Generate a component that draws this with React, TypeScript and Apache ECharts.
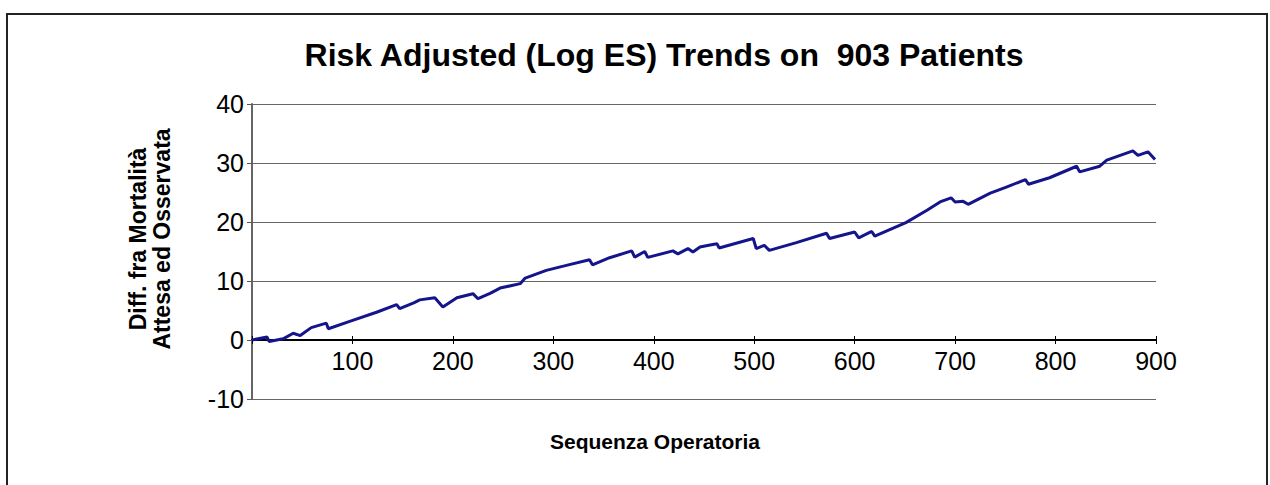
import React, { useEffect, useRef } from "react";
import * as echarts from "echarts";

const titleText = "Risk Adjusted (Log ES) Trends on  903 Patients";
const yAxisName = "Diff. fra Mortalità\nAttesa ed Osservata";
const xAxisName = "Sequenza Operatoria";

const yTicks = [-10, 0, 10, 20, 30, 40];
const xTicks = [0, 100, 200, 300, 400, 500, 600, 700, 800, 900];

const operationSeq = [
  0, 15, 17, 31, 41, 48, 59, 74, 76, 98, 124, 144, 147, 161, 167, 182, 190, 204,
  220, 225, 237, 247, 267, 272, 293, 313, 336, 339, 356, 378, 381, 391, 394, 419,
  424, 434, 439, 446, 456, 463, 465, 499, 502, 510, 515, 542, 572, 575, 600, 604,
  617, 620, 651, 672, 685, 696, 700, 708, 713, 735, 751, 770, 773, 794, 821, 824,
  844, 851, 877, 882, 892, 899,
];
const diffValues = [
  0.0, 0.5, -0.25, 0.2, 1.15, 0.75, 2.1, 2.85, 1.9, 3.2, 4.7, 6.0, 5.3, 6.3, 6.8,
  7.15, 5.6, 7.15, 7.85, 7.0, 7.9, 8.8, 9.55, 10.5, 11.8, 12.65, 13.6, 12.75,
  13.95, 15.1, 14.05, 15.0, 14.0, 15.1, 14.6, 15.5, 14.9, 15.75, 16.1, 16.3, 15.6,
  17.2, 15.5, 16.05, 15.2, 16.5, 18.1, 17.2, 18.3, 17.3, 18.4, 17.6, 19.9, 22.0,
  23.4, 24.1, 23.4, 23.5, 23.0, 24.9, 25.9, 27.2, 26.4, 27.5, 29.45, 28.5, 29.45,
  30.5, 32.05, 31.3, 31.9, 30.6,
];

const FONT = "'Liberation Sans', Arial, Helvetica, sans-serif";

export default function App() {
  const ref = useRef<HTMLDivElement>(null);

  useEffect(() => {
    if (!ref.current) return;
    const chart = echarts.init(ref.current, undefined, { renderer: "svg" });
    const seriesData = operationSeq.map((x, i) => [x, diffValues[i]]);
    const xMin = xTicks[0];
    const xMax = xTicks[xTicks.length - 1];
    const xInterval = xTicks[1] - xTicks[0];
    const yMin = yTicks[0];
    const yMax = yTicks[yTicks.length - 1];
    const yInterval = yTicks[1] - yTicks[0];

    // main plot area
    const gLeft = 252;
    const gRight = 114;
    const gTop = 104;
    const gBottom = 86;
    const H = 485;
    const plotH = H - gTop - gBottom;
    // pixel of value 0 on the y axis
    const zeroY = gTop + (plotH * (yMax - 0)) / (yMax - yMin);
    const zeroBottom = H - zeroY;

    const hiddenY = (gridIndex: number) => ({
      type: "value",
      gridIndex,
      min: 0,
      max: 1,
      show: false,
    });

    chart.setOption({
      animation: false,
      backgroundColor: "#ffffff",
      grid: [
        { left: gLeft, right: gRight, top: gTop, bottom: gBottom, containLabel: false },
        { left: gLeft, right: gRight, top: gTop, bottom: zeroBottom, containLabel: false },
        { left: gLeft, right: gRight, top: gTop, bottom: zeroBottom, containLabel: false },
      ],
      xAxis: [
        {
          type: "value",
          gridIndex: 0,
          min: xMin,
          max: xMax,
          interval: xInterval,
          axisLine: { show: false },
          axisTick: { show: false },
          axisLabel: { show: false },
          splitLine: { show: false },
        },
        {
          type: "value",
          gridIndex: 1,
          min: xMin,
          max: xMax,
          interval: xInterval,
          position: "bottom",
          axisLine: { show: true, onZero: false, lineStyle: { color: "#000", width: 2 } },
          axisTick: { show: true, inside: false, length: 4, lineStyle: { color: "#000", width: 1 } },
          axisLabel: {
            show: true,
            margin: 8,
            color: "#000",
            fontFamily: FONT,
            fontSize: 25,
            formatter: (v: number) => (v === 0 ? "" : String(v)),
          },
          splitLine: { show: false },
        },
        {
          type: "value",
          gridIndex: 2,
          min: xMin,
          max: xMax,
          interval: xInterval,
          position: "bottom",
          axisLine: { show: false, onZero: false },
          axisTick: { show: true, inside: true, length: 4, lineStyle: { color: "#000", width: 1 } },
          axisLabel: { show: false },
          splitLine: { show: false },
        },
      ],
      yAxis: [
        {
          type: "value",
          gridIndex: 0,
          min: yMin,
          max: yMax,
          interval: yInterval,
          axisLine: { show: true, onZero: false, lineStyle: { color: "#666", width: 2 } },
          axisTick: { show: true, inside: false, length: 5, lineStyle: { color: "#555", width: 1 } },
          axisLabel: { margin: 8, color: "#000", fontFamily: FONT, fontSize: 25 },
          splitLine: { show: true, lineStyle: { color: "#666", width: 1 } },
        },
        hiddenY(1),
        hiddenY(2),
      ],
      series: [
        {
          type: "line",
          xAxisIndex: 0,
          yAxisIndex: 0,
          data: seriesData,
          showSymbol: false,
          symbol: "none",
          lineStyle: { color: "#14148c", width: 3 },
          clip: true,
          z: 5,
        },
      ],
      graphic: [
        {
          type: "rect",
          shape: { x: 7, y: 14, width: 1260, height: 500 },
          style: { fill: "none", stroke: "#222", lineWidth: 2 },
          silent: true,
        },
        {
          type: "text",
          x: 664,
          y: 39,
          style: {
            text: titleText,
            fill: "#000",
            font: `bold 32px ${FONT}`,
            align: "center",
            verticalAlign: "top",
          },
        },
        {
          type: "text",
          x: 150,
          y: 239,
          rotation: Math.PI / 2,
          style: {
            text: yAxisName,
            fill: "#000",
            font: `bold 23px ${FONT}`,
            lineHeight: 24,
            align: "center",
            verticalAlign: "middle",
          },
        },
        {
          type: "text",
          x: 655,
          y: 441,
          style: {
            text: xAxisName,
            fill: "#000",
            font: `bold 21px ${FONT}`,
            align: "center",
            verticalAlign: "middle",
          },
        },
      ],
    });
    return () => chart.dispose();
  }, []);

  return (
    <div
      ref={ref}
      style={{ position: "fixed", left: 0, top: 0, width: 1270, height: 485, background: "#fff" }}
    />
  );
}
